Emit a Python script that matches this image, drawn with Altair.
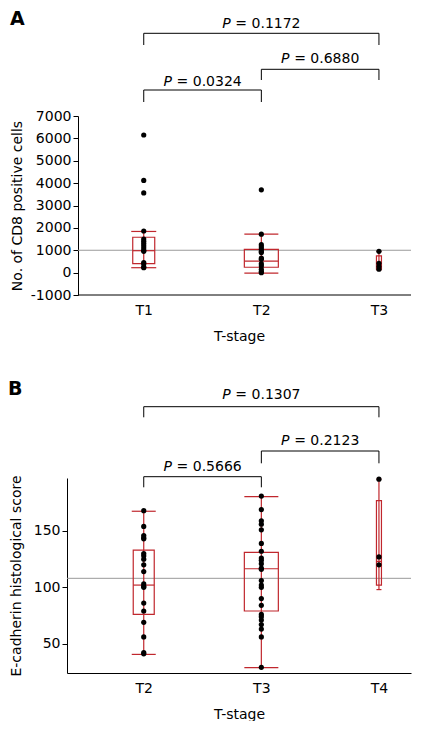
import altair as alt
import pandas as pd

RED = "#c0272d"
FONT = "DejaVu Sans"

# ---------------- Panel A data ----------------
a_groups = ["T1", "T2", "T3"]
a_points = {
    "T1": [6150, 4120, 3560, 1860, 1500, 1400, 1300, 1200, 1100, 1000, 950, 450, 380, 250, 220],
    "T2": [3700, 1720, 1250, 1150, 1050, 950, 900, 650, 600, 400, 300, 150, 50, 0],
    "T3": [950, 420, 270, 150],
}
a_q1 = [400, 240, 150]
a_med = [980, 510, 400]
a_q3 = [1580, 1040, 750]
a_lo = [220, -20, 120]
a_hi = [1840, 1720, 950]
a_mean = 1000
a_pairs = [("T1", "T3", "0.1172"), ("T2", "T3", "0.6880"), ("T1", "T2", "0.0324")]

# ---------------- Panel B data ----------------
b_groups = ["T2", "T3", "T4"]
b_points = {
    "T2": [168, 154, 146, 144, 143, 130, 128, 125, 120, 114, 103, 101, 100, 86, 79, 69, 56, 42, 41],
    "T3": [181, 169, 159, 156, 151, 139, 132, 126, 124, 121, 117, 116, 106, 102, 100, 90, 84,
           76, 74, 71, 67, 63, 56, 29],
    "T4": [196, 127, 120],
}
b_q1 = [76, 79, 102]
b_med = [102, 116.5, 123]
b_q3 = [133, 131, 177]
b_lo = [40.5, 28.7, 98]
b_hi = [167.5, 180.5, 196]
b_mean = 108
b_pairs = [("T2", "T4", "0.1307"), ("T3", "T4", "0.2123"), ("T2", "T3", "0.5666")]

W = 344


def panel(letter, groups, points, q1, med, q3, lo, hi, mean, pairs,
          ydomain, yvalues, ytitle, height, box_w, cap_w, ytitle_pad, yoffset,
          letter_xy, bracket_levels):
    pos = {g: i + 1 for i, g in enumerate(groups)}
    label_expr = " : ".join(
        [f"datum.value == {pos[g]} ? '{g}'" for g in groups[:-1]] + [f"'{groups[-1]}'"]
    )
    xscale = alt.Scale(domain=[0.39, 3.23], nice=False, zero=False)
    yscale = alt.Scale(domain=ydomain, nice=False, zero=False)
    xax = alt.Axis(values=[pos[g] for g in groups], labelExpr=label_expr, ticks=False,
                   tickSize=0, labelPadding=8, grid=False, title="T-stage", titlePadding=12,
                   domain=(yoffset == 0))
    yax = alt.Axis(values=yvalues, labelExpr="'' + datum.value", tickSize=5, labelPadding=2,
                   grid=False, title=ytitle, titlePadding=ytitle_pad, offset=yoffset)

    stats = pd.DataFrame({"g": groups, "pos": [pos[g] for g in groups], "q1": q1,
                          "med": med, "q3": q3, "lo": lo, "hi": hi})
    pts = pd.DataFrame([{"g": g, "pos": pos[g], "v": v} for g in groups for v in points[g]])

    X = alt.X("pos:Q", scale=xscale, axis=xax)
    left = -yoffset
    layers = []
    # mean reference line
    layers.append(alt.Chart(pd.DataFrame({"m": [mean]})).mark_rule(color="#9a9a9a", strokeWidth=1)
                  .encode(y=alt.Y("m:Q", scale=yscale, axis=yax),
                          x=alt.value(left), x2=alt.value(W)))
    if yoffset != 0:
        # x-axis baseline starting at the shifted y axis
        layers.append(alt.Chart(pd.DataFrame({"m": [ydomain[0]]})).mark_rule(color="black", strokeWidth=1)
                      .encode(y=alt.Y("m:Q", scale=yscale, axis=yax),
                              x=alt.value(left), x2=alt.value(W)))
    base = alt.Chart(stats)
    layers.append(base.mark_rule(color=RED, strokeWidth=1.2)
                  .encode(x=X, y=alt.Y("lo:Q", scale=yscale, axis=yax), y2="hi:Q"))
    for i, g in enumerate(groups):
        sub = base.transform_filter(alt.datum.g == g)
        layers.append(sub.mark_bar(size=box_w[i], fillOpacity=0, stroke=RED, strokeWidth=1.2,
                                   orient="vertical")
                      .encode(x=X, y=alt.Y("q1:Q", scale=yscale, axis=yax), y2="q3:Q"))
        for f in ["med", "lo", "hi"]:
            layers.append(sub.mark_tick(orient="horizontal", size=(box_w[i] if f == "med" else cap_w[i]),
                                        thickness=1.2, color=RED, opacity=1)
                          .encode(x=X, y=alt.Y(f"{f}:Q", scale=yscale, axis=yax)))
    layers.append(alt.Chart(pts).mark_circle(size=27, color="black", opacity=1)
                  .encode(x=X, y=alt.Y("v:Q", scale=yscale, axis=yax)))

    # significance brackets
    for (ga, gb, p), (ybar, ytick, ytext) in zip(pairs, bracket_levels):
        bd = pd.DataFrame({"a": [pos[ga]], "b": [pos[gb]], "p": [p]})
        bc = alt.Chart(bd).transform_calculate(mid="(datum.a + datum.b) / 2")
        layers.append(bc.mark_rule(color="black", strokeWidth=1)
                      .encode(x=alt.X("a:Q", scale=xscale, axis=xax), x2="b:Q", y=alt.value(ybar)))
        for end in ["a", "b"]:
            layers.append(bc.mark_rule(color="black", strokeWidth=1)
                          .encode(x=alt.X(f"{end}:Q", scale=xscale, axis=xax),
                                  y=alt.value(ybar), y2=alt.value(ytick)))
        layers.append(bc.mark_text(text="P", font=FONT, fontSize=14, fontStyle="italic",
                                   align="right", baseline="alphabetic", dx=-30.6, color="black")
                      .encode(x=alt.X("mid:Q", scale=xscale, axis=xax), y=alt.value(ytext)))
        layers.append(bc.mark_text(font=FONT, fontSize=14, align="left", baseline="alphabetic",
                                   dx=-26, color="black")
                      .encode(x=alt.X("mid:Q", scale=xscale, axis=xax), y=alt.value(ytext),
                              text=alt.Text("lab:N"))
                      .transform_calculate(lab="'= ' + datum.p"))
    # panel letter
    layers.append(alt.Chart(pd.DataFrame({"t": [letter]})).mark_text(
        font=FONT, fontSize=19, fontWeight="bold", align="left", baseline="alphabetic", color="black")
        .encode(x=alt.value(letter_xy[0]), y=alt.value(letter_xy[1]), text="t:N"))

    return alt.layer(*layers).properties(width=W, height=height)


chart_a = panel("A", a_groups, a_points, a_q1, a_med, a_q3, a_lo, a_hi, a_mean, a_pairs,
                [-1000, 7000], list(range(-1000, 7001, 1000)), "No. of CD8 positive cells",
                179, [22, 34, 5], [25, 34, 5], 6, -11, (-57, -91),
                [(-82.7, -71, -88), (-46.7, -36, -53), (-26, -14, -30)])
chart_b = panel("B", b_groups, b_points, b_q1, b_med, b_q3, b_lo, b_hi, b_mean, b_pairs,
                [24, 197], [50, 100, 150], "E-cadherin histological score",
                195, [21, 34, 5], [24, 34, 5], 10, 0, (-59, -83),
                [(-71.3, -60.7, -78.7), (-27, -14.7, -33), (-1.3, 9.3, -7)])

chart = alt.vconcat(chart_a, chart_b, spacing=37).properties(
    padding={"left": 0, "top": 2, "right": 0, "bottom": 0}
).configure_view(stroke=None).configure_axis(
    domainColor="black", tickColor="black", labelColor="black", titleColor="black",
    labelFont=FONT, titleFont=FONT, labelFontSize=14, titleFontSize=14,
    titleFontWeight="normal", domainWidth=1, tickWidth=1
)

chart.save("out.html", embed_options={"renderer": "svg", "actions": False})
